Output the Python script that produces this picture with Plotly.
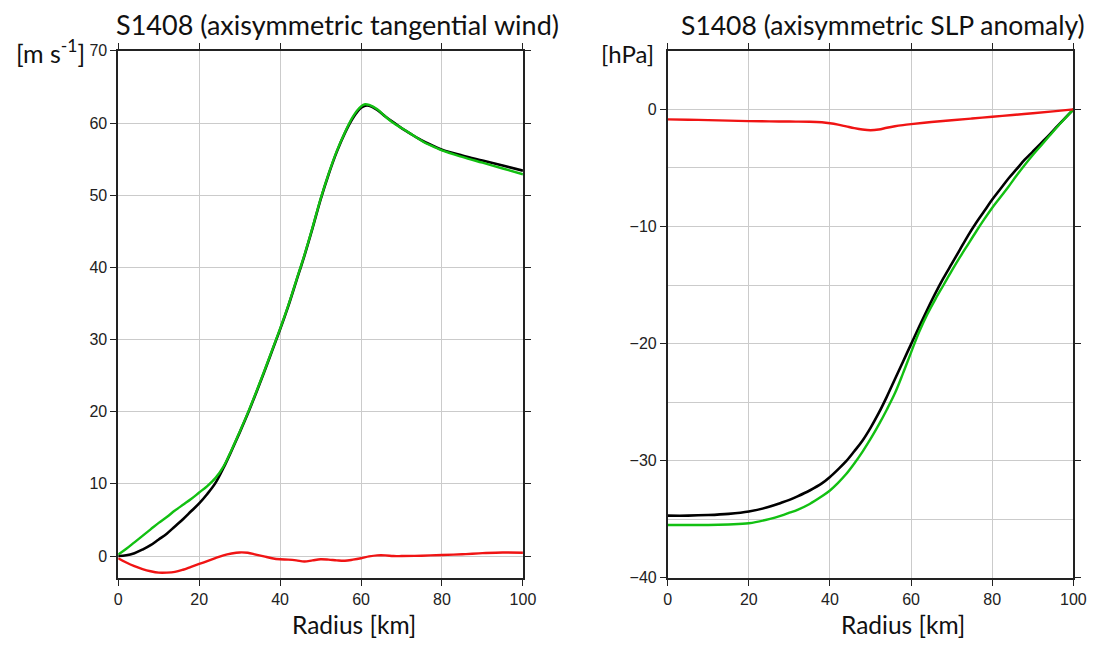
import plotly.graph_objects as go

# ---------------- Left panel: axisymmetric tangential wind [m s-1] ----------------
r_wind = [0, 2, 4, 6, 8, 10, 12, 14, 16, 18, 20, 22, 24, 26, 28, 30, 32, 34, 36, 38,
          40, 42, 44, 46, 48, 50, 52, 54, 56, 58, 60, 61, 62, 64, 66, 68, 70, 72, 74,
          76, 78, 80, 85, 90, 95, 100]
wind_black = [0.0, 0.1, 0.4, 0.9, 1.5, 2.3, 3.1, 4.1, 5.1, 6.2, 7.3, 8.6, 10.1, 12.2,
              14.6, 17.1, 19.7, 22.5, 25.4, 28.4, 31.4, 34.6, 38.1, 41.6, 45.4, 49.4,
              52.9, 56.0, 58.6, 60.7, 62.1, 62.4, 62.4, 61.8, 60.9, 60.1, 59.3, 58.6,
              57.9, 57.3, 56.8, 56.3, 55.5, 54.8, 54.1, 53.4]
wind_green = [0.2, 1.0, 1.9, 2.8, 3.7, 4.6, 5.4, 6.3, 7.1, 7.9, 8.8, 9.7, 10.8, 12.4,
              14.7, 17.2, 19.8, 22.6, 25.5, 28.5, 31.5, 34.7, 38.2, 41.7, 45.5, 49.5,
              53.0, 56.1, 58.7, 60.9, 62.3, 62.6, 62.5, 61.9, 60.9, 60.0, 59.3, 58.6,
              57.9, 57.2, 56.7, 56.2, 55.3, 54.5, 53.7, 52.9]

r_wind_red = [0, 2, 4, 6, 8, 10, 12, 14, 16, 18, 20, 22, 24, 26, 28, 30, 32, 34, 36,
              38, 40, 42, 44, 46, 48, 50, 52, 54, 56, 58, 60, 62, 64, 66, 68, 70, 75,
              80, 85, 90, 95, 100]
wind_red = [-0.3, -0.9, -1.4, -1.8, -2.1, -2.3, -2.3, -2.2, -1.9, -1.5, -1.1, -0.7,
            -0.3, 0.1, 0.35, 0.5, 0.45, 0.2, -0.05, -0.3, -0.45, -0.5, -0.6, -0.75,
            -0.6, -0.45, -0.5, -0.6, -0.65, -0.5, -0.3, -0.05, 0.1, 0.1, 0.0, 0.0,
            0.05, 0.15, 0.25, 0.4, 0.5, 0.45]

# ---------------- Right panel: axisymmetric SLP anomaly [hPa] ----------------
r_slp = [0, 5, 10, 15, 20, 25, 28, 30, 32, 35, 38, 40, 42, 44, 46, 48, 50, 52, 54, 56,
         58, 60, 62, 64, 66, 68, 70, 72, 74, 76, 78, 80, 82, 84, 86, 88, 90, 92, 94, 96,
         98, 100]
slp_black = [-34.7, -34.7, -34.65, -34.55, -34.35, -33.95, -33.6, -33.35, -33.05,
             -32.55, -31.95, -31.4, -30.75, -30.05, -29.2, -28.3, -27.2, -25.95, -24.55,
             -23.05, -21.55, -20.05, -18.55, -17.1, -15.7, -14.4, -13.2, -12.0, -10.8,
             -9.7, -8.7, -7.7, -6.8, -5.9, -5.1, -4.3, -3.6, -2.9, -2.2, -1.45, -0.72,
             0.0]
slp_green = [-35.5, -35.5, -35.5, -35.45, -35.35, -35.0, -34.7, -34.45, -34.2, -33.7,
             -33.05, -32.55, -31.9, -31.15, -30.25, -29.25, -28.15, -26.95, -25.65,
             -24.25, -22.55, -20.75, -19.0, -17.5, -16.2, -15.0, -13.8, -12.65, -11.55,
             -10.45, -9.4, -8.4, -7.5, -6.6, -5.65, -4.75, -3.9, -3.1, -2.3, -1.5,
             -0.75, 0.0]

r_slp_red = [0, 5, 10, 15, 20, 25, 30, 35, 38, 40, 42, 44, 46, 48, 50, 52, 54, 56, 58,
             60, 65, 70, 75, 80, 85, 90, 95, 100]
slp_red = [-0.85, -0.88, -0.92, -0.96, -1.0, -1.02, -1.04, -1.05, -1.1, -1.18, -1.3,
           -1.45, -1.6, -1.72, -1.78, -1.72, -1.57, -1.44, -1.34, -1.26, -1.08, -0.93,
           -0.78, -0.63, -0.48, -0.33, -0.17, 0.0]

x_ticks = [0, 20, 40, 60, 80, 100]
wind_ticks = [0, 10, 20, 30, 40, 50, 60, 70]
slp_ticks = [0, -10, -20, -30, -40]

W, H = 1111, 650
BLACK, GREEN, RED = "#000000", "#12c012", "#f01414"
FRAME = "#222222"
GRID = "#cbcbcb"
TICK_FONT = dict(family="Liberation Sans, Arial, sans-serif", size=16, color="#222222")
TEXT_FONT = "Lato, Open Sans, sans-serif"


def px(x):
    return x / W


def py(y):
    return 1 - y / H


fig = go.Figure()

line_kw = dict(mode="lines", line_shape="spline", hoverinfo="skip", showlegend=False)
fig.add_trace(go.Scatter(x=r_wind, y=wind_black, line=dict(color=BLACK, width=2.6),
                         xaxis="x", yaxis="y", **line_kw))
fig.add_trace(go.Scatter(x=r_wind, y=wind_green, line=dict(color=GREEN, width=2.4),
                         xaxis="x", yaxis="y", **line_kw))
fig.add_trace(go.Scatter(x=r_wind_red, y=wind_red, line=dict(color=RED, width=2.4),
                         xaxis="x", yaxis="y", **line_kw))

fig.add_trace(go.Scatter(x=r_slp, y=slp_black, line=dict(color=BLACK, width=2.6),
                         xaxis="x2", yaxis="y2", **line_kw))
fig.add_trace(go.Scatter(x=r_slp, y=slp_green, line=dict(color=GREEN, width=2.4),
                         xaxis="x2", yaxis="y2", **line_kw))
fig.add_trace(go.Scatter(x=r_slp_red, y=slp_red, line=dict(color=RED, width=2.4),
                         xaxis="x2", yaxis="y2", **line_kw))

axis_common = dict(
    showline=True, linecolor=FRAME, linewidth=1.6, mirror="ticks",
    ticks="outside", ticklen=6, tickwidth=1.2, tickcolor=FRAME,
    showgrid=True, gridcolor=GRID, gridwidth=1, zeroline=False,
    tickfont=TICK_FONT, fixedrange=True,
)

y_dom = [py(585), py(44)]

fig.update_layout(
    width=W, height=H,
    margin=dict(l=0, r=0, t=0, b=0),
    paper_bgcolor="white", plot_bgcolor="white",
    xaxis=dict(domain=[px(116), px(527)], range=[0, 100], tickvals=x_ticks,
               anchor="y", **axis_common),
    yaxis=dict(domain=y_dom, range=[-3, 70], tickvals=wind_ticks,
               anchor="x", **axis_common),
    xaxis2=dict(domain=[px(674), px(1086)], range=[0, 100], tickvals=x_ticks,
                anchor="y2", **axis_common),
    yaxis2=dict(domain=y_dom, range=[-40, 5], tickvals=slp_ticks, anchor="x2",
                minor=dict(dtick=5, tick0=0, showgrid=True, gridcolor=GRID,
                           gridwidth=1, ticks=""),
                **axis_common),
)

ann = []


def text(x, y, s, size, xanchor="center"):
    ann.append(dict(x=px(x), y=py(y), xref="paper", yref="paper", text=s,
                    showarrow=False, xanchor=xanchor, yanchor="middle",
                    font=dict(family=TEXT_FONT, size=size, color="#111111")))


text(339, 17, "S1408 (axisymmetric tangential wind)", 27)
text(893, 17, "S1408 (axisymmetric SLP anomaly)", 26.5)
text(47, 45, "[m s<sup>-1</sup>]", 25)
text(633, 47, "[hPa]", 24)
text(355, 633, "Radius [km]", 24.5)
text(913, 633, "Radius [km]", 24.5)

fig.update_layout(annotations=ann)

fig.write_html("out.html")
